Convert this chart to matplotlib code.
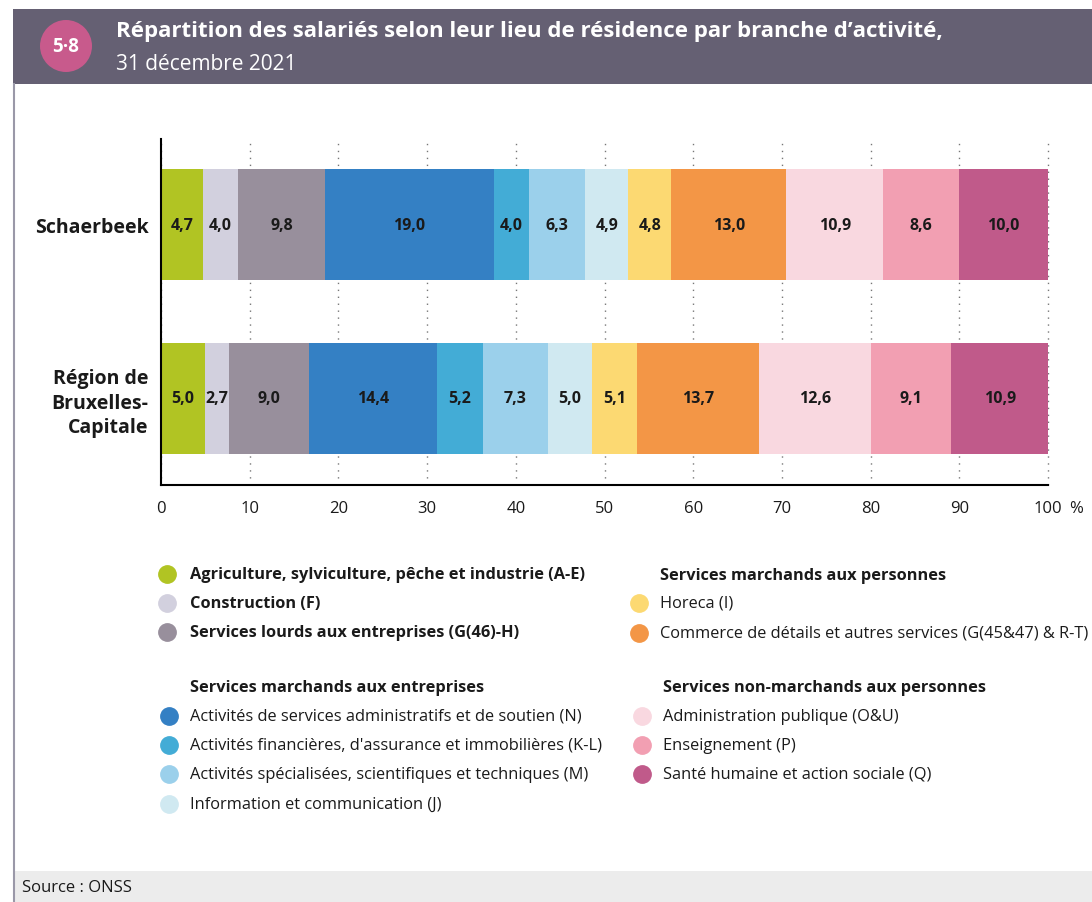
import matplotlib
matplotlib.use("Agg")
import matplotlib.pyplot as plt
from matplotlib.lines import Line2D
from matplotlib.patches import Rectangle, Ellipse
import numpy as np

plt.rcParams['font.family'] = ['Open Sans', 'DejaVu Sans']

# data
regions = ['Schaerbeek', 'Région de\nBruxelles-\nCapitale']
branches = [
    'Agriculture, sylviculture, pêche et industrie (A-E)',
    'Construction (F)',
    'Services lourds aux entreprises (G(46)-H)',
    'Activités de services administratifs et de soutien (N)',
    "Activités financières, d'assurance et immobilières (K-L)",
    'Activités spécialisées, scientifiques et techniques (M)',
    'Information et communication (J)',
    'Horeca (I)',
    'Commerce de détails et autres services (G(45&47) & R-T)',
    'Administration publique (O&U)',
    'Enseignement (P)',
    'Santé humaine et action sociale (Q)',
]
schaerbeek = [4.7, 4.0, 9.8, 19.0, 4.0, 6.3, 4.9, 4.8, 13.0, 10.9, 8.6, 10.0]
bruxelles = [5.0, 2.7, 9.0, 14.4, 5.2, 7.3, 5.0, 5.1, 13.7, 12.6, 9.1, 10.9]
colors = ['#b1c423', '#d2d0de', '#988f9c', '#3480c4', '#43acd6', '#9bd0eb',
          '#d0e9f1', '#fcd972', '#f39646', '#f9d8e0', '#f29fb2', '#c05a8a']
xticks = [0, 10, 20, 30, 40, 50, 60, 70, 80, 90, 100]

W, H = 1092, 903
TXT = '#1a1a1a'


def fx(px):
    return px / W


def fy(py):
    return 1 - py / H


fig = plt.figure(figsize=(W / 100, H / 100), dpi=100)

# header band
fig.add_artist(Rectangle((fx(13), fy(85)), 1, 75 / H, transform=fig.transFigure,
                         facecolor='#656073', edgecolor='none'))
fig.add_artist(Ellipse((fx(66), fy(47)), 52 / W, 52 / H, transform=fig.transFigure,
                       facecolor='#c85a8c', edgecolor='none'))
fig.text(fx(66), fy(47), '5·8', color='white', fontsize=13.5, fontweight='bold',
         ha='center', va='center')
fig.text(fx(116), fy(32), "Répartition des salariés selon leur lieu de résidence par branche d’activité,",
         color='white', fontsize=16, fontweight='bold', ha='left', va='center')
fig.text(fx(116), fy(65), '31 décembre 2021', color='white', fontsize=15,
         ha='left', va='center')

# left border and source band
fig.add_artist(Line2D([fx(14), fx(14)], [fy(85), 0], transform=fig.transFigure,
                      color='#9a98a8', lw=1.5))
fig.add_artist(Rectangle((fx(15), 0), 1, 31 / H, transform=fig.transFigure,
                         facecolor='#ececec', edgecolor='none'))
fig.text(fx(22), fy(888), 'Source : ONSS', fontsize=12, ha='left', va='center',
         color=TXT)

# bars
ax = fig.add_axes([fx(161), fy(486), (1048 - 161) / W, (486 - 140) / H])
y = np.arange(len(regions))
lefts = np.zeros(len(regions))
for i in range(len(branches)):
    vals = np.array([schaerbeek[i], bruxelles[i]])
    ax.barh(y, vals, left=lefts, height=0.64, color=colors[i], edgecolor='none', zorder=2)
    for j, v in enumerate(vals):
        ax.text(lefts[j] + v / 2, y[j], f'{v:.1f}'.replace('.', ','), ha='center',
                va='center', fontsize=11.5, fontweight='bold', color=TXT, zorder=3)
    lefts += vals

ax.set_xlim(0, 100)
ax.set_ylim(1.501, -0.493)
ax.set_xticks(xticks)
ax.set_xticklabels([str(t) for t in xticks], fontsize=12)
ax.tick_params(axis='x', length=0, pad=11, labelcolor=TXT)
ax.tick_params(axis='y', length=0, pad=9, labelcolor=TXT)
ax.set_yticks(y)
ax.set_yticklabels(regions, fontsize=14, fontweight='bold', linespacing=1.3)
fig.text(fx(1076), fy(509), '%', fontsize=12, ha='center', va='center', color=TXT)
ax.xaxis.grid(True, linestyle=(0, (1, 4)), color='#777777', lw=1)
for gl in ax.get_xgridlines():
    gl.set_clip_on(False)
ax.set_axisbelow(True)
for s in ['top', 'right']:
    ax.spines[s].set_visible(False)
ax.spines['left'].set_linewidth(1.5)
ax.spines['bottom'].set_linewidth(1.5)


# legend
def item(xm, xt, py, label, color, bold=False):
    fig.add_artist(Line2D([fx(xm)], [fy(py)], marker='o', markersize=12.5,
                          color=color, transform=fig.transFigure, linestyle='none'))
    fig.text(fx(xt), fy(py), label, fontsize=11.8, ha='left', va='center',
             fontweight='bold' if bold else 'normal', color=TXT)


item(167, 190, 575, branches[0], colors[0], True)
item(167, 190, 604, branches[1], colors[1], True)
item(167, 190, 633, branches[2], colors[2], True)
fig.text(fx(190), fy(688), 'Services marchands aux entreprises', fontsize=11.8,
         fontweight='bold', ha='left', va='center', color=TXT)
for k, py in enumerate([717, 746, 775, 805]):
    item(169, 190, py, branches[3 + k], colors[3 + k])

fig.text(fx(660), fy(576), 'Services marchands aux personnes', fontsize=11.8,
         fontweight='bold', ha='left', va='center', color=TXT)
item(639, 660, 604, branches[7], colors[7])
item(639, 660, 634, branches[8], colors[8])
fig.text(fx(663), fy(688), 'Services non-marchands aux personnes', fontsize=11.8,
         fontweight='bold', ha='left', va='center', color=TXT)
for k, py in enumerate([717, 746, 775]):
    item(642, 663, py, branches[9 + k], colors[9 + k])

fig.savefig('out.png', dpi=100)
